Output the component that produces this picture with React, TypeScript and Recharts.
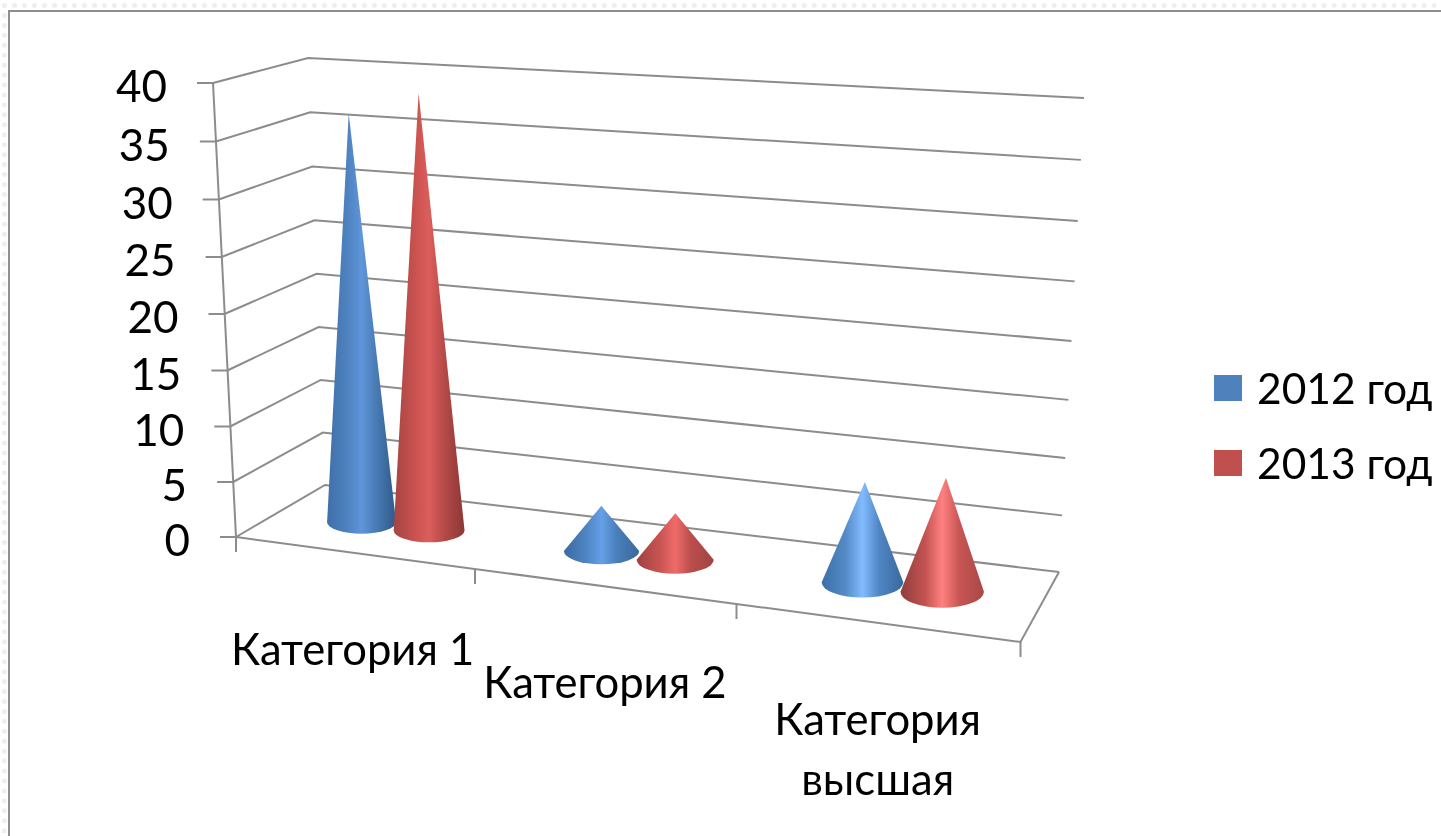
import React from "react";
import { BarChart, Bar, XAxis, YAxis, CartesianGrid, Legend } from "recharts";

const categories = ["Категория 1", "Категория 2", "Категория высшая"];
const series2012 = [36, 3.9, 8.5];
const series2013 = [38.3, 4, 9.6];
const yTicks = [0, 5, 10, 15, 20, 25, 30, 35, 40];
const seriesNames = ["2012 год", "2013 год"];
const colors = ["#4f81bd", "#c0504d"];

const tableRows = categories.map((name, i) => ({ name, a: series2012[i], b: series2013[i] }));

const W = 1441;
const H = 836;
const plotLeft = 236;
const plotRight = 1021;
const plotTop = 83;
const plotBottom = 537;
const band = (plotRight - plotLeft) / categories.length;
const FONT = "Lato, 'Open Sans', sans-serif";
const GRID = "#8c8c8c";
const GW = 2;

const frontX = (u: number) => 236 + 227.75 * u + 11.25 * u * u;
const frontY = (x: number) => 537 + (x - 236) * 0.1338;
const midX = (u: number) => 281.4 + 222 * u + 10.5 * u * u;

const tOf = (y: number) => (plotBottom - y) / (plotBottom - plotTop);
const wallFront = (t: number) => [236 - 23 * t, 537 - 438 * t - 16 * t * t];
const wallBack = (t: number) => [325 - 17 * t, 485 - 418 * t - 9 * t * t];
const wallRight = (t: number) => [1059 + 25 * t, 572 - 450 * t - 24 * t * t];

function GridLine(props: any) {
  const t = tOf(props.y1);
  const [ax, ay] = wallFront(t);
  const [bx, by] = wallBack(t);
  const [cx, cy] = wallRight(t);
  let d = `M${ax},${ay}L${bx},${by}L${cx},${cy}`;
  if (t < 0.001) {
    const [tx, ty] = wallFront(1);
    d += `M${ax},${ay}L${tx},${ty}`;
    d += `M${ax},${ay}L${frontX(3)},${frontY(frontX(3))}L${cx},${cy}`;
  }
  return <path d={d} fill="none" stroke={GRID} strokeWidth={GW} />;
}

function YTick(props: any) {
  const t = tOf(props.y);
  const [ax, ay] = wallFront(t);
  return (
    <g>
      <line x1={ax - 16} y1={ay} x2={ax} y2={ay} stroke={GRID} strokeWidth={GW} />
      <text x={ax - 46} y={ay + 19} textAnchor="end" fontFamily={FONT} fontSize={44} fill="#000">
        {props.payload.value}
      </text>
    </g>
  );
}

function XTick(props: any) {
  const u = (props.x - plotLeft) / band;
  const i = Math.floor(u);
  const lx = frontX(u);
  const ly = frontY(lx);
  const rx = frontX(i + 1);
  const ry = frontY(rx);
  const words = String(props.payload.value).split(" ");
  const lines = words[words.length - 1].length > 1 ? words : [words.join(" ")];
  return (
    <g>
      {i === 0 && <line x1={236} y1={537} x2={236} y2={552} stroke={GRID} strokeWidth={GW} />}
      <line x1={rx} y1={ry} x2={rx} y2={ry + 15} stroke={GRID} strokeWidth={GW} />
      {lines.map((line, k) => (
        <text
          key={line}
          x={lx + (i === 2 ? 2 : i === 1 ? 2 : 0)}
          y={ly + 112 + k * 60}
          textAnchor="middle"
          fontFamily={FONT}
          fontSize={43.6}
          fill="#000"
        >
          {line}
        </text>
      ))}
    </g>
  );
}

const palettes: Record<string, string[][]> = {
  a: [
    ["#3f6fa8", "#4f83c0", "#5f95da", "#4a7cb6", "#2f5a8a"],
    ["#3a6ba3", "#4f85c4", "#659fe6", "#4a7fbc", "#3a6899"],
    ["#3c6ea6", "#558cc8", "#82bbff", "#4f86c4", "#39699c"],
  ],
  b: [
    ["#a54543", "#c9524f", "#dc5e5c", "#b84b49", "#8a3735"],
    ["#9e4241", "#c85452", "#ee6c6a", "#bb4e4c", "#a04443"],
    ["#8f3d3b", "#c45452", "#ff8080", "#c85654", "#a84846"],
  ],
};

function Cone(props: any) {
  const { x, width, height, index, dataKey } = props;
  const u = (x + width / 2 - plotLeft) / band;
  const cx = midX(u);
  const half = 1.035 * (midX((x + width - plotLeft) / band) - midX((x - plotLeft) / band)) / 2;
  const baseY = 522 + 0.12 * (cx - 360);
  const ry = 11.5 + 0.0075 * (cx - 360);
  const h = height * (1 + 0.00008 * (cx - 360));
  const apexX = cx + (cx - 648) * 1.1e-4 * h;
  const apexY = baseY - h;
  const id = `cone-${dataKey}-${index}`;
  const st = palettes[dataKey][index];
  const d = `M${apexX},${apexY}L${cx - half},${baseY}A${half},${ry} 0 0 0 ${cx + half},${baseY}Z`;
  return (
    <g>
      <defs>
        <linearGradient id={id} x1="0" y1="0" x2="1" y2="0">
          <stop offset="0%" stopColor={st[0]} />
          <stop offset="30%" stopColor={st[1]} />
          <stop offset="50%" stopColor={st[2]} />
          <stop offset="70%" stopColor={st[3]} />
          <stop offset="100%" stopColor={st[4]} />
        </linearGradient>
      </defs>
      <path d={d} fill={`url(#${id})`} />
    </g>
  );
}

function LegendBox(props: any) {
  const items = props.payload || [];
  return (
    <div style={{ position: "relative", width: 241, height: 140 }}>
      {items.map((it: any, i: number) => (
        <div key={it.value}>
          <div
            style={{
              position: "absolute",
              left: 14,
              top: 15 + i * 75,
              width: 28,
              height: 26,
              background: it.color,
            }}
          />
          <div
            style={{
              position: "absolute",
              left: 57,
              top: i * 75,
              lineHeight: "56px",
              fontFamily: FONT,
              fontSize: 42.5,
              color: "#000",
              whiteSpace: "nowrap",
            }}
          >
            {it.value}
          </div>
        </div>
      ))}
    </div>
  );
}

export default function App() {
  return (
    <div style={{ position: "absolute", left: 0, top: 0, width: W, height: H, overflow: "hidden", background: "#fff" }}>
      <div style={{ position: "absolute", left: 2, top: 3, width: W, height: H, borderTop: "5px dotted #efefef", borderLeft: "5px dotted #efefef" }} />
      <div style={{ position: "absolute", left: 8, top: 10, width: W, height: H, borderTop: "2px solid #8f8f8f", borderLeft: "2px solid #8f8f8f", background: "#fff" }} />
      <div style={{ position: "absolute", left: 0, top: 0, filter: "blur(0.5px)" }}>
        <BarChart
          width={W}
          height={H}
          data={tableRows}
          margin={{ top: plotTop, bottom: H - plotBottom - 1, left: plotLeft - 1, right: W - plotRight }}
          barCategoryGap="21%"
          barGap={0}
        >
          <CartesianGrid vertical={false} horizontal={(p: any) => <GridLine key={p.key} {...p} />} />
          <XAxis dataKey="name" height={1} axisLine={false} tickLine={false} interval={0} tick={(p: any) => <XTick {...p} />} />
          <YAxis domain={[0, 40]} ticks={yTicks} width={1} axisLine={false} tickLine={false} interval={0} tick={(p: any) => <YTick {...p} />} />
          <Legend
            layout="vertical"
            align="center"
            verticalAlign="middle"
            wrapperStyle={{ left: 1200, top: 360, width: 241, height: 140 }}
            content={(p: any) => <LegendBox {...p} />}
          />
          <Bar dataKey="a" name={seriesNames[0]} fill={colors[0]} isAnimationActive={false} shape={(p: any) => <Cone {...p} dataKey="a" />} />
          <Bar dataKey="b" name={seriesNames[1]} fill={colors[1]} isAnimationActive={false} shape={(p: any) => <Cone {...p} dataKey="b" />} />
        </BarChart>
      </div>
    </div>
  );
}
